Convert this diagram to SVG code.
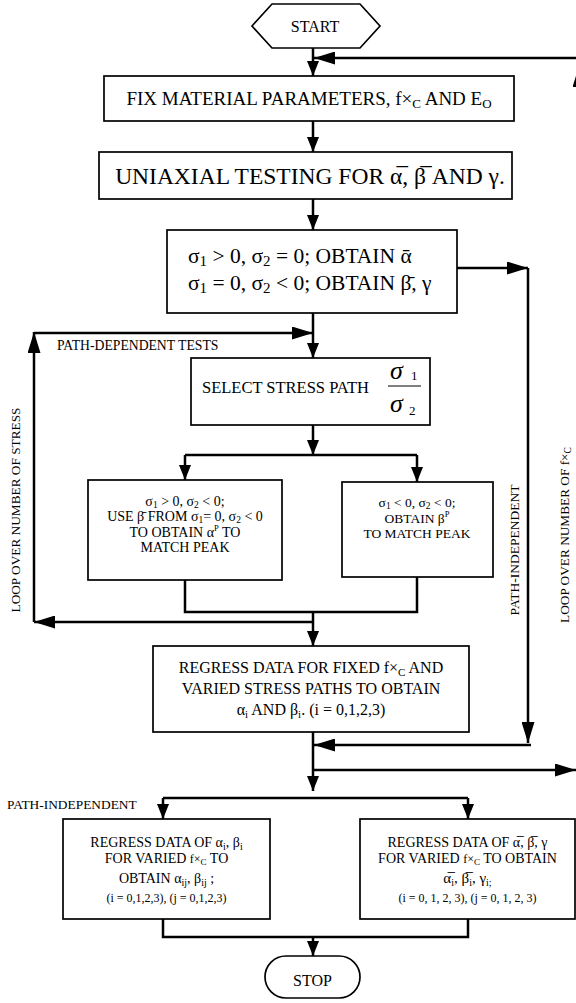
<svg xmlns="http://www.w3.org/2000/svg" width="576" height="1003" viewBox="0 0 576 1003">
<style>
text{font-family:"Liberation Serif","DejaVu Serif","Times New Roman",serif;fill:#000}
.box{fill:#fff;stroke:#000;stroke-width:1.7}
.c{fill:none;stroke:#000;stroke-width:2.5}
.m{text-anchor:middle}
</style>
<defs>
<marker id="s" markerUnits="userSpaceOnUse" markerWidth="15" markerHeight="12" viewBox="0 0 15 12" refX="15" refY="6" orient="auto"><path d="M0,0L15,6L0,12z" fill="#000"/></marker>
<marker id="b" markerUnits="userSpaceOnUse" markerWidth="21" markerHeight="13" viewBox="0 0 21 13" refX="21" refY="6.5" orient="auto"><path d="M0,0L21,6.5L0,13z" fill="#000"/></marker>
</defs>
<rect width="576" height="1003" fill="#fff"/>

<g id="connectors">
<path class="c" d="M313,48V76" marker-end="url(#s)"/>
<path class="c" d="M590,58H314" marker-end="url(#b)"/>
<path class="c" d="M579,120V66" marker-end="url(#b)"/>
<path class="c" d="M313,121V152" marker-end="url(#s)"/>
<path class="c" d="M313,199V230" marker-end="url(#s)"/>
<path class="c" d="M313,313V358" marker-end="url(#s)"/>
<path class="c" d="M457,268H528" marker-end="url(#b)"/>
<path class="c" d="M528,268V743" marker-end="url(#b)"/>
<path class="c" d="M531,745H314" marker-end="url(#b)"/>
<path class="c" d="M34,333H313" marker-end="url(#b)"/>
<path class="c" d="M34,622V332" marker-end="url(#b)"/>
<path class="c" d="M313,622H34" marker-end="url(#b)"/>
<path class="c" d="M313,425V455" marker-end="url(#s)"/>
<path class="c" d="M185,455H417"/>
<path class="c" d="M185,455V480" marker-end="url(#s)"/>
<path class="c" d="M417,455V482" marker-end="url(#s)"/>
<path class="c" d="M185,580V612H417V577"/>
<path class="c" d="M313,612V646" marker-end="url(#s)"/>
<path class="c" d="M313,732V791" marker-end="url(#s)"/>
<path class="c" d="M313,770H576" marker-end="url(#b)"/>
<path class="c" d="M163,798H468"/>
<path class="c" d="M163,798V819" marker-end="url(#s)"/>
<path class="c" d="M468,798V819" marker-end="url(#s)"/>
<path class="c" d="M163,919V937H468V919"/>
<path class="c" d="M313,937V956" marker-end="url(#s)"/>
</g>

<g id="start">
<polygon class="box" stroke-width="1.5" points="252,26 272,4 360,4 380,26 360,48 272,48"/>
<text class="m" x="315" y="32" font-size="16">START</text>
</g>

<g id="fix-material">
<rect class="box" x="104" y="76" width="410" height="45"/>
<text class="m" x="309" y="105" font-size="19">FIX MATERIAL PARAMETERS, f×<tspan font-size="13" dy="3">C</tspan><tspan dy="-3"> AND E</tspan><tspan font-size="13" dy="3">O</tspan></text>
</g>

<g id="uniaxial">
<rect class="box" x="99" y="152" width="413" height="47"/>
<text class="m" x="310" y="184" font-size="23.5">UNIAXIAL TESTING FOR α&#x305;, β&#x305; AND γ.</text>
</g>

<g id="obtain">
<rect class="box" x="167" y="230" width="290" height="83"/>
<text x="188" y="263" font-size="21.5">σ<tspan font-size="15" dy="3">1</tspan><tspan dy="-3"> &gt; 0, σ</tspan><tspan font-size="15" dy="3">2</tspan><tspan dy="-3"> = 0; OBTAIN α&#x304;</tspan></text>
<text x="188" y="290" font-size="21.5">σ<tspan font-size="15" dy="3">1</tspan><tspan dy="-3"> = 0, σ</tspan><tspan font-size="15" dy="3">2</tspan><tspan dy="-3"> &lt; 0; OBTAIN β&#x304;, γ</tspan></text>
</g>

<g id="labels">
<text x="57" y="350" font-size="13.7">PATH-DEPENDENT TESTS</text>
<text x="7" y="809" font-size="13.4">PATH-INDEPENDENT</text>
<text class="m" transform="translate(20,510) rotate(-90)" font-size="13.3">LOOP OVER NUMBER OF STRESS</text>
<text class="m" transform="translate(519,550) rotate(-90)" font-size="13.5">PATH-INDEPENDENT</text>
<text class="m" transform="translate(569,535) rotate(-90)" font-size="13.3">LOOP OVER NUMBER OF f×<tspan font-size="9.5" dy="2">C</tspan></text>
</g>

<g id="select-path">
<rect class="box" x="191" y="358" width="239" height="67"/>
<text x="202" y="393" font-size="16.5">SELECT STRESS PATH</text>
<text x="390" y="379" font-size="26" font-style="italic">σ</text>
<text x="411" y="380" font-size="13">1</text>
<line x1="388" y1="386" x2="421" y2="386" stroke="#000" stroke-width="1.2"/>
<text x="390" y="412" font-size="26" font-style="italic">σ</text>
<text x="409" y="415" font-size="13">2</text>
</g>

<g id="tension-compression">
<rect class="box" x="88" y="480" width="194" height="100"/>
<text class="m" x="185" y="506" font-size="14">σ<tspan font-size="9.5" dy="2">1</tspan><tspan dy="-2"> &gt; 0, σ</tspan><tspan font-size="9.5" dy="2">2</tspan><tspan dy="-2"> &lt; 0;</tspan></text>
<text class="m" x="185" y="521" font-size="14">USE β&#x304; FROM σ<tspan font-size="9.5" dy="2">1</tspan><tspan dy="-2">= 0, σ</tspan><tspan font-size="9.5" dy="2">2</tspan><tspan dy="-2"> &lt; 0</tspan></text>
<text class="m" x="185" y="537" font-size="14">TO OBTAIN α<tspan font-size="8.5" dy="-6">P</tspan><tspan dy="6"> TO</tspan></text>
<text class="m" x="185" y="552" font-size="14">MATCH PEAK</text>
</g>

<g id="compression-compression">
<rect class="box" x="342" y="482" width="151" height="95"/>
<text class="m" x="417" y="507" font-size="13.5">σ<tspan font-size="9.5" dy="2">1</tspan><tspan dy="-2"> &lt; 0, σ</tspan><tspan font-size="9.5" dy="2">2</tspan><tspan dy="-2"> &lt; 0;</tspan></text>
<text class="m" x="417" y="523" font-size="13.5">OBTAIN β<tspan font-size="8.5" dy="-6">P</tspan></text>
<text class="m" x="417" y="538" font-size="13.5">TO MATCH PEAK</text>
</g>

<g id="regress-fixed">
<rect class="box" x="153" y="646" width="316" height="86"/>
<text class="m" x="311" y="673" font-size="16">REGRESS DATA FOR FIXED f×<tspan font-size="11" dy="3">C</tspan><tspan dy="-3"> AND</tspan></text>
<text class="m" x="311" y="694" font-size="16">VARIED STRESS PATHS TO OBTAIN</text>
<text class="m" x="311" y="715" font-size="16">α<tspan font-size="11" dy="3">i</tspan><tspan dy="-3"> AND β</tspan><tspan font-size="11" dy="3">i</tspan><tspan dy="-3">. (i = 0,1,2,3)</tspan></text>
</g>

<g id="regress-path-independent">
<rect class="box" x="63" y="819" width="207" height="100"/>
<text class="m" x="166.5" y="847" font-size="14">REGRESS DATA OF α<tspan font-size="10" dy="3">i</tspan><tspan dy="-3">, β</tspan><tspan font-size="10" dy="3">i</tspan></text>
<text class="m" x="166.5" y="863" font-size="14">FOR VARIED <tspan font-size="12">f×</tspan><tspan font-size="9" dy="2">C</tspan><tspan dy="-2"> TO</tspan></text>
<text class="m" x="166.5" y="883" font-size="14">OBTAIN α<tspan font-size="10" dy="3">ij</tspan><tspan dy="-3">, β</tspan><tspan font-size="10" dy="3">ij</tspan><tspan dy="-3"> ;</tspan></text>
<text class="m" x="166.5" y="902" font-size="12">(i = 0,1,2,3), (j = 0,1,2,3)</text>
</g>

<g id="regress-uniaxial">
<rect class="box" x="360" y="819" width="215" height="100"/>
<text class="m" x="467.5" y="847" font-size="14">REGRESS DATA OF α&#x305;, β&#x305;, γ</text>
<text class="m" x="467.5" y="863" font-size="14">FOR VARIED <tspan font-size="12">f×</tspan><tspan font-size="9" dy="2">C</tspan><tspan dy="-2"> TO OBTAIN</tspan></text>
<text class="m" x="467.5" y="883" font-size="15">α&#x305;<tspan font-size="10" dy="3">i</tspan><tspan dy="-3">, β&#x305;</tspan><tspan font-size="10" dy="3">i</tspan><tspan dy="-3">, γ</tspan><tspan font-size="10" dy="3">i;</tspan></text>
<text class="m" x="467.5" y="902" font-size="12">(i = 0, 1, 2, 3), (j = 0, 1, 2, 3)</text>
</g>

<g id="stop">
<rect class="box" x="265" y="956" width="95" height="42" rx="21" ry="21"/>
<text class="m" x="312.5" y="986" font-size="16">STOP</text>
</g>
</svg>
